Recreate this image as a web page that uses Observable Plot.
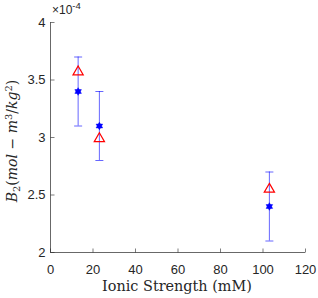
<!DOCTYPE html>
<html><head><meta charset="utf-8">
<script src="https://cdn.jsdelivr.net/npm/d3@7"></script>
<script src="https://cdn.jsdelivr.net/npm/@observablehq/plot@0.6"></script>
<style>body{margin:0;background:#fff}</style></head>
<body><div id="chart"></div>
<script>
const ionicStrength = [13, 23, 103];
const b2Mean = [3.40, 3.10, 2.40];
const b2Low = [3.10, 2.80, 2.10];
const b2High = [3.70, 3.40, 2.70];
const b2Model = [3.57, 2.99, 2.55];
const xTicks = [0, 20, 40, 60, 80, 100, 120];
const yTicks = [2, 2.5, 3, 3.5, 4];
const yTickLabels = ["2", "2.5", "3", "3.5", "4"];
const xLabel = "Ionic Strength (mM)";

const rows = ionicStrength.map((x, i) => ({x, mean: b2Mean[i], lo: b2Low[i], hi: b2High[i], model: b2Model[i]}));

const hexagram = {draw(ctx, size) {
  const r = Math.sqrt(size / Math.PI);
  for (const start of [-90, 90]) {
    for (let k = 0; k < 3; k++) {
      const a = (start + k * 120) * Math.PI / 180;
      const px = r * Math.cos(a), py = r * Math.sin(a);
      if (k === 0) ctx.moveTo(px, py); else ctx.lineTo(px, py);
    }
    ctx.closePath();
  }
}};
const hline = {draw(ctx, size) { const r = Math.sqrt(size / Math.PI); ctx.moveTo(-r, 0); ctx.lineTo(r, 0); }};
const vline = {draw(ctx, size) { const r = Math.sqrt(size / Math.PI); ctx.moveTo(0, -r); ctx.lineTo(0, r); }};

const axisColor = "#262626";
const plot = Plot.plot({
  width: 318, height: 298,
  marginLeft: 50, marginRight: 13, marginTop: 22, marginBottom: 46,
  style: {fontFamily: "'Liberation Sans', Arial, sans-serif", fontSize: "13px", color: axisColor, background: "#fff"},
  x: {domain: [0, 120]},
  y: {domain: [2, 4]},
  marks: [
    Plot.axisX(xTicks, {tickSize: 0, tickPadding: 12, label: null, fontSize: 13, fill: axisColor}),
    Plot.axisY(yTicks, {tickSize: 0, tickPadding: 5, label: null, fontSize: 13, fill: axisColor, tickFormat: (d, i) => yTickLabels[i]}),
    Plot.dot(xTicks, {x: d => d, y: () => 2, symbol: vline, r: 2, dy: -2, stroke: axisColor, strokeWidth: 0.6}),
    Plot.dot(yTicks, {x: () => 0, y: d => d, symbol: hline, r: 2, dx: 2, stroke: axisColor, strokeWidth: 0.6}),
    Plot.ruleY([2], {stroke: axisColor, strokeWidth: 0.7}),
    Plot.ruleX([0], {stroke: axisColor, strokeWidth: 0.7}),
    Plot.ruleX(rows, {x: "x", y1: "lo", y2: "hi", stroke: "#0000ff", strokeOpacity: 0.6, strokeWidth: 1}),
    Plot.dot(rows, {x: "x", y: "lo", symbol: hline, r: 4, stroke: "#0000ff", strokeOpacity: 0.6, strokeWidth: 1}),
    Plot.dot(rows, {x: "x", y: "hi", symbol: hline, r: 4, stroke: "#0000ff", strokeOpacity: 0.6, strokeWidth: 1}),
    Plot.dot(rows, {x: "x", y: "mean", symbol: hexagram, r: 3.8, fill: "#0000ff", stroke: "#0000ff", strokeWidth: 0.5}),
    Plot.dot(rows, {x: "x", y: "model", symbol: "triangle", r: 3.8, fill: "none", stroke: "#ff0000", strokeWidth: 1.2})
  ]
});
document.getElementById("chart").appendChild(plot);

const svg = d3.select(plot);
const serif = "'DejaVu Serif', 'Liberation Serif', serif";
// exponent label
const ex = svg.append("text").attr("x", 52).attr("y", 14).attr("text-anchor", "start")
  .attr("font-family", "'Liberation Sans', Arial, sans-serif").attr("font-size", 12).attr("fill", axisColor);
ex.append("tspan").text("×10");
ex.append("tspan").attr("font-size", 9.5).attr("dy", -5).text("-4");
// x label
const xl = svg.append("text").attr("x", 177).attr("y", 291).attr("text-anchor", "middle")
  .attr("font-family", serif).attr("font-size", 14).attr("fill", axisColor)
  .text(xLabel);
{
  const len = xl.node().getComputedTextLength();
  if (len > 0) xl.attr("font-size", 14 * 150 / len);
}
// y label
const yl = svg.append("text").attr("transform", "translate(17,141) rotate(-90)").attr("text-anchor", "middle")
  .attr("font-family", serif).attr("font-size", 14).attr("fill", axisColor)
  .attr("font-style", "italic");
yl.append("tspan").text("B");
yl.append("tspan").attr("font-size", 10).attr("font-style", "normal").attr("dy", 3).text("2");
yl.append("tspan").attr("dy", -3).attr("font-style", "normal").text("(");
yl.append("tspan").text("mol ");
yl.append("tspan").attr("font-style", "normal").text("− ");
yl.append("tspan").text("m");
yl.append("tspan").attr("font-size", 10).attr("font-style", "normal").attr("dy", -5).text("3");
yl.append("tspan").attr("dy", 5).attr("font-style", "normal").text("/");
yl.append("tspan").text("kg");
yl.append("tspan").attr("font-size", 10).attr("font-style", "normal").attr("dy", -5).text("2");
yl.append("tspan").attr("dy", 5).attr("font-style", "normal").text(")");
</script></body></html>
